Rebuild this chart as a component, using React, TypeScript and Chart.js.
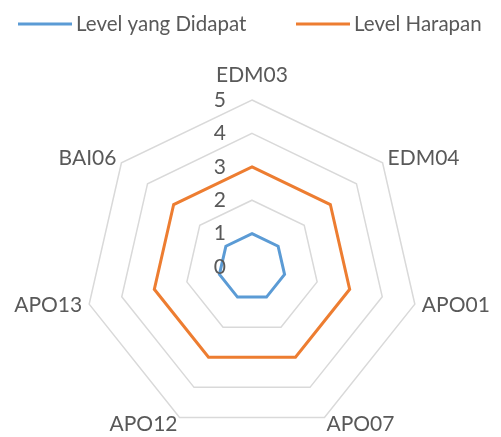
import React, { useEffect, useRef } from "react";
import { Chart, registerables } from "chart.js";

Chart.register(...registerables);

const categories = ["EDM03", "EDM04", "APO01", "APO07", "APO12", "APO13", "BAI06"];
const levelDidapat = [1, 1, 1, 1, 1, 1, 1];
const levelHarapan = [3, 3, 3, 3, 3, 3, 3];
const tickValues = [0, 1, 2, 3, 4, 5];

const FONT = "Lato, 'Open Sans', sans-serif";
const TEXT = "#595959";

// label placement per category: [alignment, extra distance beyond outer ring, dx, dy]
const labelPlace: [CanvasTextAlign, number, number, number][] = [
  ["center", 0, 0, -25],
  ["left", 0, 5, -5],
  ["left", 0, 7, 1],
  ["left", 0, 2, 7],
  ["right", 0, -2, 7],
  ["right", 0, -7, 1],
  ["right", 0, -5, -5],
];

const labelsPlugin = {
  id: "customLabels",
  afterDraw(chart: any) {
    const s = chart.scales.r;
    const ctx = chart.ctx;
    ctx.save();
    ctx.fillStyle = TEXT;
    ctx.textBaseline = "middle";
    // tick labels, left of the vertical axis
    ctx.font = `21px ${FONT}`;
    ctx.textAlign = "right";
    tickValues.forEach((v) => {
      const d = s.getDistanceFromCenterForValue(v);
      ctx.fillText(String(v), s.xCenter - 26, s.yCenter - d);
    });
    // point labels
    categories.forEach((c, i) => {
      const [align, extra, dx, dy] = labelPlace[i];
      const p = s.getPointPosition(i, s.drawingArea + extra);
      ctx.textAlign = align;
      ctx.fillText(c, p.x + dx, p.y + dy);
    });
    // legend
    ctx.font = `20.5px ${FONT}`;
    ctx.textAlign = "left";
    const starts = [18, 296];
    chart.data.datasets.forEach((ds: any, i: number) => {
      const x = starts[i];
      ctx.strokeStyle = ds.borderColor;
      ctx.lineWidth = 3;
      ctx.beginPath();
      ctx.moveTo(x, 24);
      ctx.lineTo(x + 54, 24);
      ctx.stroke();
      ctx.fillText(ds.label, x + 58, 24);
    });
    ctx.restore();
  },
};

export default function App() {
  const ref = useRef<HTMLCanvasElement>(null);
  useEffect(() => {
    document.body.style.margin = "0";
    const chart = new Chart(ref.current!, {
      type: "radar",
      data: {
        labels: categories,
        datasets: [
          {
            label: "Level yang Didapat",
            data: levelDidapat,
            borderColor: "#5B9BD5",
            backgroundColor: "#5B9BD5",
            borderWidth: 3,
            fill: false,
            pointRadius: 0,
          },
          {
            label: "Level Harapan",
            data: levelHarapan,
            borderColor: "#ED7D31",
            backgroundColor: "#ED7D31",
            borderWidth: 3,
            fill: false,
            pointRadius: 0,
          },
        ],
      },
      options: {
        animation: false,
        responsive: false,
        layout: { padding: { top: 100, bottom: 2, left: 5, right: 1 } },
        plugins: {
          legend: { display: false },
          tooltip: { enabled: false },
        },
        scales: {
          r: {
            min: 0,
            max: 5,
            ticks: { stepSize: 1, display: false },
            grid: { color: "#D9D9D9", lineWidth: 1.5 },
            angleLines: { display: false },
            pointLabels: { display: false },
          },
        },
      },
      plugins: [labelsPlugin],
    });
    return () => chart.destroy();
  }, []);
  return (
    <div style={{ width: 501, height: 437 }}>
      <canvas ref={ref} width={501} height={437} />
    </div>
  );
}
